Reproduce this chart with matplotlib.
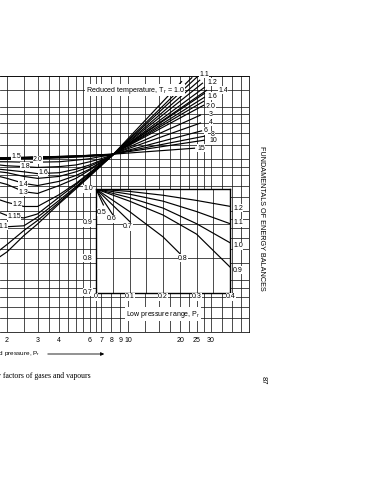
import matplotlib
matplotlib.use("Agg")
import matplotlib.pyplot as plt
from matplotlib.ticker import FixedLocator, NullLocator

plt.rcParams['font.family'] = ['Liberation Sans', 'DejaVu Sans']
plt.rcParams['mathtext.default'] = 'regular'

W, H = 367, 480

# ---------------- data ----------------
# main chart: compressibility factor z vs reduced pressure Pr (log-log)
P_LOW = [1.8, 2.0, 2.5, 3.0, 4.0, 5.0, 6.0, 7.0, 8.0]
tr_values = [1.0, 1.05, 1.1, 1.15, 1.2, 1.3, 1.4, 1.5, 1.6, 1.8, 2.0, 3, 4, 6, 8, 10, 15]
z_tr_100 = [0.27, 0.29, 0.36, 0.42, 0.55, 0.67, 0.79, 0.91, 1.03]
z_tr_105 = [0.295, 0.32, 0.385, 0.44, 0.56, 0.68, 0.80, 0.92, 1.03]
z_tr_110 = [0.41, 0.405, 0.41, 0.46, 0.575, 0.69, 0.81, 0.92, 1.03]
z_tr_115 = [0.49, 0.47, 0.455, 0.48, 0.60, 0.71, 0.82, 0.93, 1.03]
z_tr_120 = [0.58, 0.56, 0.53, 0.53, 0.62, 0.72, 0.83, 0.94, 1.035]
z_tr_130 = [0.73, 0.71, 0.645, 0.63, 0.70, 0.77, 0.86, 0.95, 1.035]
z_tr_140 = [0.79, 0.77, 0.72, 0.70, 0.74, 0.80, 0.87, 0.96, 1.04]
z_tr_150 = [0.84, 0.83, 0.79, 0.77, 0.79, 0.84, 0.90, 0.97, 1.04]
z_tr_160 = [0.87, 0.86, 0.84, 0.82, 0.83, 0.87, 0.92, 0.98, 1.04]
z_tr_180 = [0.92, 0.91, 0.90, 0.89, 0.90, 0.92, 0.96, 1.00, 1.045]
z_tr_200 = [0.96, 0.96, 0.955, 0.955, 0.96, 0.98, 1.00, 1.03, 1.05]
z_tr_3 = [0.99, 0.99, 1.0, 1.0, 1.01, 1.02, 1.03, 1.04, 1.05]
z_tr_4 = [1.0, 1.0, 1.01, 1.01, 1.02, 1.03, 1.04, 1.05, 1.055]
z_tr_6 = [1.005, 1.005, 1.01, 1.015, 1.02, 1.03, 1.04, 1.05, 1.055]
z_tr_8 = [1.01, 1.01, 1.015, 1.02, 1.025, 1.035, 1.045, 1.05, 1.06]
z_tr_10 = [1.01, 1.01, 1.015, 1.02, 1.03, 1.035, 1.045, 1.055, 1.06]
z_tr_15 = [1.01, 1.015, 1.02, 1.025, 1.03, 1.04, 1.045, 1.055, 1.06]
pr_end = [20.5, 23.5, 25.4, 26.1, 27.1, 27.8, 28.6, 27.8, 27.8, 27.5, 27.5, 26.4, 26.4, 26.8, 27.8, 27.8, 24.4]
z_end = [2.80, 2.95, 3.0, 2.85, 2.74, 2.59, 2.49, 2.39, 2.27, 2.15, 2.04, 1.79, 1.61, 1.45, 1.35, 1.28, 1.15]

x_grid = [2, 2.5, 3, 3.5, 4, 4.5, 5, 5.5, 6, 6.5, 7, 8, 9, 10, 12.5, 15, 17.5, 20,
          22.5, 25, 27.5, 30, 35, 40, 45, 50]
x_labeled = [2, 3, 4, 6, 7, 8, 9, 10, 20, 25, 30]
y_grid = [0.1, 0.12, 0.14, 0.16, 0.18, 0.2, 0.25, 0.3, 0.35, 0.4, 0.45, 0.5, 0.6, 0.7,
          0.8, 0.9, 1.0, 1.2, 1.4, 1.6, 1.8, 2.0, 2.5, 3.0]

# inset: low pressure range
inset_pr = [0.0, 0.1, 0.2, 0.3, 0.4]
inset_z_090 = [1.0, 0.965, 0.925, 0.87, 0.775]
inset_z_100 = [1.0, 0.975, 0.945, 0.90, 0.845]
inset_z_110 = [1.0, 0.985, 0.965, 0.935, 0.90]
inset_z_120 = [1.0, 0.993, 0.982, 0.967, 0.95]
inset_pr_080 = [0.0, 0.1, 0.2, 0.25]
inset_z_080 = [1.0, 0.935, 0.862, 0.814]
inset_short_pr = [0.022, 0.052, 0.102]
inset_short_z = [0.954, 0.923, 0.905]
inset_short_tr = ['0.5', '0.6', '0.7']

# ---------------- figure ----------------
fig = plt.figure(figsize=(W / 100, H / 100), dpi=100)

def fx(px):
    return px / W

def fy(py):
    return 1 - py / H

def T(px, py, s, **kw):
    kw.setdefault('fontsize', 5)
    kw.setdefault('ha', 'center')
    kw.setdefault('va', 'center')
    return fig.text(fx(px), fy(py), s, **kw)

# main axes: left edge cut by the page crop
L, R, TOP, BOT = 0, 249, 76, 332
ax = fig.add_axes([fx(L), fy(BOT), fx(R) - fx(L), fy(TOP) - fy(BOT)])
ax.set_xscale('log')
ax.set_yscale('log')
ax.set_xlim(1.82, 50)
ax.set_ylim(0.1, 3.0)
ax.xaxis.set_major_locator(FixedLocator(x_grid))
ax.xaxis.set_minor_locator(NullLocator())
ax.yaxis.set_major_locator(FixedLocator(y_grid))
ax.yaxis.set_minor_locator(NullLocator())
ax.set_xticklabels([(str(v) if v in x_labeled else '') for v in x_grid], fontsize=5)
ax.set_yticklabels([])
ax.tick_params(length=0, pad=3.5)
ax.grid(True, color='#1a1a1a', lw=0.55)
ax.set_axisbelow(True)
for s in ['top', 'right', 'bottom']:
    ax.spines[s].set_linewidth(0.55)
ax.spines['left'].set_visible(False)

low_sets = [z_tr_100, z_tr_105, z_tr_110, z_tr_115, z_tr_120, z_tr_130, z_tr_140,
            z_tr_150, z_tr_160, z_tr_180, z_tr_200, z_tr_3, z_tr_4, z_tr_6, z_tr_8,
            z_tr_10, z_tr_15]
for zl, pe, ze in zip(low_sets, pr_end, z_end):
    ax.plot(P_LOW + [pe], zl + [ze], color='black', lw=0.85, solid_capstyle='butt')

# labels on curves (main chart)
T(135, 90, 'Reduced temperature, T$_r$ = 1.0', fontsize=5.1,
  bbox=dict(fc='white', ec='none', pad=0.6))
right_labels = [('1.1', 204, 74), ('1.2', 212, 82), ('1.4', 223, 90), ('1.6', 212, 96),
                ('2.0', 211, 106), ('3', 211, 114), ('4', 211, 122), ('6', 206, 131),
                ('8', 213, 135), ('10', 213, 141), ('15', 201, 148)]
for s, px, py in right_labels:
    T(px, py, s, bbox=dict(fc='white', ec='none', pad=0.3))
left_labels = [('1.5', 16, 156), ('2.0', 38, 160), ('1.8', 25, 166), ('1.6', 43, 172),
               ('1.4', 23, 184), ('1.3', 23, 192), ('1.2', 17, 205), ('1.15', 14, 216),
               ('1.1', 3, 226)]
for s, px, py in left_labels:
    T(px, py, s, bbox=dict(fc='white', ec='none', pad=0.3))

# inset
ia = fig.add_axes([fx(96), fy(293), fx(230) - fx(96), fy(189) - fy(293)])
ia.set_facecolor('white')
ia.set_xlim(0, 0.4)
ia.set_ylim(0.7, 1.0)
ia.set_xticks([0, 0.05, 0.1, 0.15, 0.2, 0.25, 0.3, 0.35, 0.4])
ia.set_yticks([0.7, 0.8, 0.9, 1.0])
ia.set_xticklabels([])
ia.set_yticklabels([])
ia.tick_params(length=0)
ia.grid(True, color='#1a1a1a', lw=0.55)
ia.set_axisbelow(True)
for s in ia.spines.values():
    s.set_linewidth(1.0)
for zz in [inset_z_090, inset_z_100, inset_z_110, inset_z_120]:
    ia.plot(inset_pr, zz, color='black', lw=0.85)
ia.plot(inset_pr_080, inset_z_080, color='black', lw=0.85)
for p, z in zip(inset_short_pr, inset_short_z):
    ia.plot([0, p], [1.0, z], color='black', lw=0.85)

for s, px in [('0', 96), ('0.1', 130), ('0.2', 163), ('0.3', 197), ('0.4', 231)]:
    T(px, 297, s, bbox=dict(fc='white', ec='none', pad=0.3))
for s, py in [('1.0', 189), ('0.9', 223), ('0.8', 258), ('0.7', 292)]:
    T(88, py, s, bbox=dict(fc='white', ec='none', pad=0.3))
for s, px, py in [('0.5', 102, 212), ('0.6', 112, 219), ('0.7', 128, 227), ('0.8', 183, 258)]:
    T(px, py, s, bbox=dict(fc='white', ec='none', pad=0.3))
for s, py in [('1.2', 208), ('1.1', 223), ('1.0', 246), ('0.9', 270)]:
    T(238, py, s, bbox=dict(fc='white', ec='none', pad=0.3))
T(163, 314, 'Low pressure range, P$_r$', bbox=dict(fc='white', ec='none', pad=1.0))

# axis title with arrow
T(40, 354, 'Reduced pressure, P$_r$', ha='right', fontsize=4.6)
fig.add_artist(matplotlib.patches.FancyArrowPatch((fx(45), fy(354)), (fx(107), fy(354)),
               transform=fig.transFigure, arrowstyle='-|>', mutation_scale=5,
               color='black', lw=0.6))

# caption and page furniture
T(91, 376, 'Figure 3.8.  Compressibility factors of gases and vapours', ha='right',
  fontsize=5.6, family=['Liberation Serif', 'DejaVu Serif'])
T(262, 218, 'FUNDAMENTALS OF ENERGY BALANCES', rotation=270, fontsize=5.2)
T(263, 380, '87', rotation=270, fontsize=5.5)

fig.savefig('out.png', dpi=100, facecolor='white')
